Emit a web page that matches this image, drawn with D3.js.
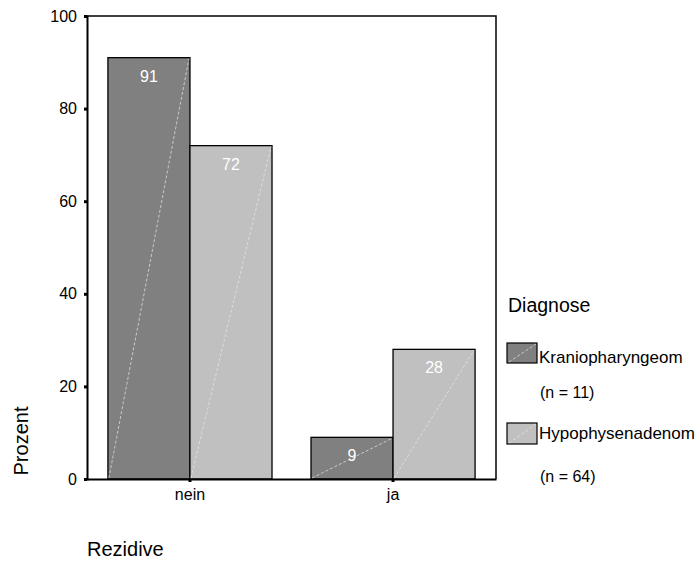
<!DOCTYPE html>
<html><head><meta charset="utf-8">
<script src="https://cdn.jsdelivr.net/npm/d3@7"></script>
<style>body{margin:0;background:#fff}svg{display:block}text{font-family:Arial,"Liberation Sans",sans-serif}</style>
</head><body>
<svg id="c" width="697" height="561"></svg>
<script>
const categories = ["nein", "ja"];
const series = ["Kraniopharyngeom", "Hypophysenadenom"];
const seriesN = ["(n = 11)", "(n = 64)"];
const valuesKranio = [91, 9];
const valuesHypo = [72, 28];
const yTicks = [0, 20, 40, 60, 80, 100];
const colors = ["#808080", "#c0c0c0"];

const FONT = "Arial, 'Liberation Sans', sans-serif";
const svg = d3.select("#c");
const L = 87, R = 496, T = 16, B = 479;
const y = d3.scaleLinear().domain([0, 100]).range([B, T]);
const x0 = d3.scaleBand().domain(categories).range([L, R]).paddingInner(0.192).paddingOuter(0.103);
const x1 = d3.scaleBand().domain(series).range([0, x0.bandwidth()]);

// frame
svg.append("path").attr("d", `M${L},${T}H${R}V${B}`).attr("fill","none").attr("stroke","#000").attr("stroke-width",1.5);

const data = [];
categories.forEach((c, i) => {
  data.push({c, s: series[0], v: valuesKranio[i], col: colors[0]});
  data.push({c, s: series[1], v: valuesHypo[i], col: colors[1]});
});
const g = svg.append("g");
data.forEach(d => {
  const bx = x0(d.c) + x1(d.s), bw = x1.bandwidth(), by = y(d.v);
  g.append("rect").attr("x", bx).attr("y", by).attr("width", bw).attr("height", B - by)
    .attr("fill", d.col).attr("stroke", "#000").attr("stroke-width", 1.3);
  g.append("line").attr("x1", bx + 1).attr("y1", B - 1).attr("x2", bx + bw - 1).attr("y2", by + 1)
    .attr("stroke", "#e8e8e8").attr("stroke-width", 0.7).attr("stroke-dasharray", "3,2");
  g.append("text").attr("x", bx + bw / 2).attr("y", by + 24).attr("text-anchor", "middle")
    .attr("fill", "#fff").attr("font-size", 16).text(d.v);
});

// y axis
const ya = svg.append("g").attr("transform", `translate(${L},0)`)
  .call(d3.axisLeft(y).tickValues(yTicks).tickSize(3).tickPadding(7).tickFormat(d3.format("d")));
ya.select(".domain").attr("stroke-width", 2);
ya.selectAll(".tick line").attr("stroke-width", 3);
ya.selectAll(".tick text").attr("font-size", 16).attr("fill", "#000").attr("font-family", FONT);

// x axis
const xa = svg.append("g").attr("transform", `translate(0,${B})`)
  .call(d3.axisBottom(x0).tickSize(3).tickPadding(7).tickSizeOuter(0));
xa.select(".domain").attr("stroke-width", 2);
xa.selectAll(".tick line").attr("stroke-width", 3);
xa.selectAll(".tick text").attr("font-size", 16).attr("fill", "#000").attr("font-family", FONT);

// axis titles
svg.append("text").attr("transform", "translate(28,441) rotate(-90)").attr("text-anchor", "middle")
  .attr("font-size", 20).text("Prozent");
svg.append("text").attr("x", 87).attr("y", 556).attr("font-size", 20).text("Rezidive");

// legend
svg.append("text").attr("x", 508).attr("y", 312).attr("font-size", 19.5).text("Diagnose");
const legLayout = [{sy: 343, sh: 20, ty: 363, ny: 398}, {sy: 423, sh: 21, ty: 439, ny: 482}];
series.forEach((s, i) => {
  const lo = legLayout[i];
  svg.append("rect").attr("x", 507).attr("y", lo.sy).attr("width", 30).attr("height", lo.sh)
    .attr("fill", colors[i]).attr("stroke", "#000").attr("stroke-width", 1.2);
  svg.append("line").attr("x1", 509).attr("y1", lo.sy + lo.sh - 1).attr("x2", 536).attr("y2", lo.sy + 1)
    .attr("stroke", "#e8e8e8").attr("stroke-width", 0.7).attr("stroke-dasharray", "3,2");
  svg.append("text").attr("x", 539).attr("y", lo.ty).attr("font-size", 17).text(s);
  svg.append("text").attr("x", 540).attr("y", lo.ny).attr("font-size", 16).text(seriesN[i]);
});
</script>
</body></html>
